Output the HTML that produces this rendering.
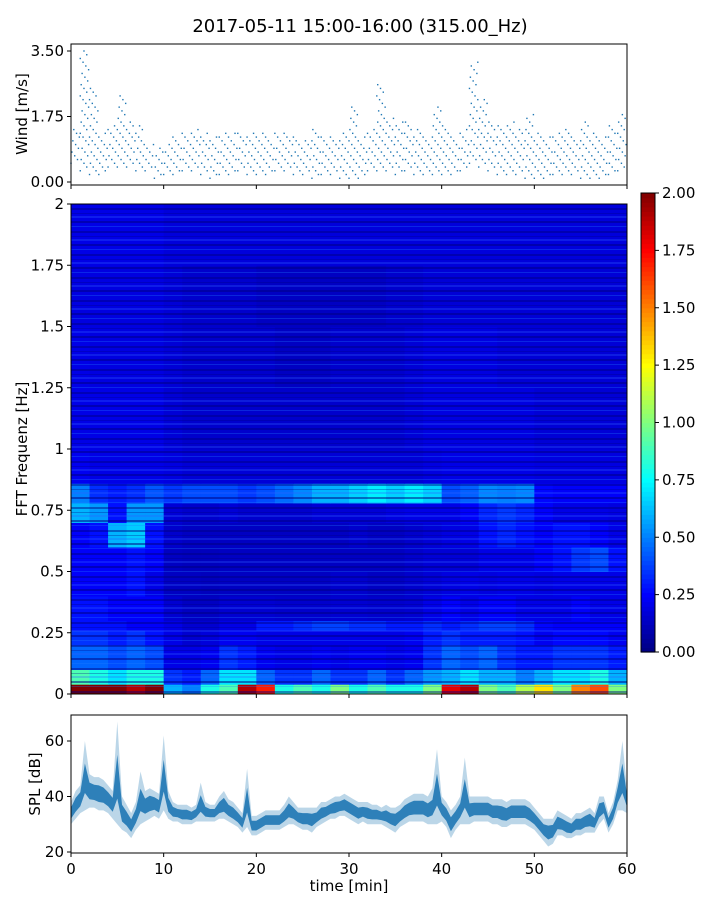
<!DOCTYPE html>
<html><head><meta charset="utf-8"><style>
html,body{margin:0;padding:0;background:#fff;}
svg{display:block;font-family:"DejaVu Sans","Liberation Sans",sans-serif;}
</style></head><body>
<svg id="chart" width="720" height="900" viewBox="0 0 720 900" xmlns="http://www.w3.org/2000/svg">
<defs>
<pattern id="streaks" patternUnits="userSpaceOnUse" x="0" y="0" width="556" height="23">
<rect x="0" y="1" width="556" height="2" fill="#00007f" fill-opacity="0.45"/>
<rect x="0" y="6" width="556" height="1" fill="#00007f" fill-opacity="0.3"/>
<rect x="0" y="9" width="556" height="2" fill="#3060ff" fill-opacity="0.3"/>
<rect x="0" y="14" width="556" height="2" fill="#00007f" fill-opacity="0.5"/>
<rect x="0" y="19" width="556" height="1" fill="#2080ff" fill-opacity="0.3"/>
</pattern>
</defs>
<text x="360" y="32" text-anchor="middle" font-size="18">2017-05-11 15:00-16:00 (315.00_Hz)</text>
<g id="wind"></g>
<g id="spec"></g>
<g id="cbar"></g>
<g id="spl"></g>
</svg>
<script>
// ---- data ----
var windMinutes = [0,1,2,3,4,5,6,7,8,9,10,11,12,13,14,15,16,17,18,19,20,21,22,23,24,25,26,27,28,29,30,31,32,33,34,35,36,37,38,39,40,41,42,43,44,45,46,47,48,49,50,51,52,53,54,55,56,57,58,59];
var windLow  = [0.5,0.3,0.2,0.2,0.4,0.4,0.4,0.3,0.3,0.1,0.2,0.2,0.3,0.3,0.2,0.1,0.2,0.2,0.3,0.2,0.2,0.2,0.3,0.3,0.2,0.2,0.1,0.2,0.2,0.1,0.1,0.1,0.3,0.3,0.3,0.2,0.3,0.2,0.2,0.2,0.2,0.2,0.3,0.5,0.4,0.3,0.2,0.2,0.2,0.1,0.1,0.1,0.2,0.2,0.2,0.1,0.1,0.1,0.2,0.3];
var windHigh = [1.4,3.5,2.5,1.3,1.5,2.3,1.6,1.5,1.0,0.9,1.0,1.2,1.3,1.4,1.3,1.2,1.3,1.3,1.3,1.3,1.3,1.2,1.3,1.3,1.2,1.1,1.4,1.2,1.2,1.3,2.0,1.2,1.4,2.6,1.7,1.6,1.6,1.4,1.2,2.0,1.5,1.2,1.4,3.2,2.2,1.6,1.5,1.6,1.4,1.8,1.3,1.2,1.3,1.4,1.2,1.6,1.3,1.2,1.5,1.8];

var specTimes = [0,2,4,6,8,10,12,14,16,18,20,22,24,26,28,30,32,34,36,38,40,42,44,46,48,50,52,54,56,58,60];
var freqEdges = [0,0.04,0.1,0.2,0.26,0.3,0.4,0.5,0.6,0.7,0.78,0.86,1.0,1.25,1.5,1.75,2.0];
var specRow0  = [2.0,2.0,2.0,1.9,2.0,0.6,0.5,0.8,0.9,1.9,1.7,0.8,0.9,0.8,1.0,0.8,0.9,0.8,0.8,1.0,1.8,1.9,1.0,0.9,1.1,1.3,1.0,1.5,1.6,1.0];
var specRow1  = [0.9,0.8,0.7,0.8,0.8,0.35,0.3,0.45,0.7,0.7,0.45,0.35,0.35,0.45,0.35,0.35,0.45,0.35,0.45,0.55,0.6,0.7,0.6,0.6,0.5,0.6,0.7,0.7,0.8,0.6];
var specRow2  = [0.45,0.45,0.4,0.45,0.4,0.2,0.2,0.22,0.35,0.3,0.22,0.2,0.2,0.22,0.2,0.22,0.22,0.2,0.22,0.35,0.45,0.4,0.45,0.35,0.3,0.3,0.35,0.35,0.35,0.3];
var specRow3  = [0.35,0.35,0.3,0.35,0.28,0.2,0.16,0.18,0.22,0.22,0.2,0.2,0.2,0.2,0.2,0.2,0.2,0.2,0.22,0.3,0.35,0.3,0.3,0.3,0.28,0.22,0.26,0.26,0.26,0.22];
var specRow4  = [0.28,0.28,0.28,0.24,0.24,0.2,0.16,0.16,0.2,0.2,0.3,0.3,0.34,0.38,0.38,0.34,0.34,0.3,0.3,0.34,0.3,0.34,0.38,0.38,0.34,0.26,0.24,0.24,0.24,0.24];
var specRow5  = [0.28,0.28,0.24,0.24,0.24,0.16,0.13,0.13,0.16,0.16,0.16,0.15,0.15,0.15,0.16,0.16,0.15,0.15,0.16,0.2,0.24,0.2,0.24,0.24,0.2,0.2,0.2,0.24,0.2,0.2];
var specRow6  = [0.24,0.24,0.24,0.28,0.2,0.13,0.13,0.12,0.13,0.13,0.13,0.13,0.13,0.13,0.15,0.15,0.13,0.13,0.15,0.17,0.19,0.2,0.19,0.2,0.2,0.19,0.2,0.2,0.2,0.2];
var specRow7  = [0.24,0.24,0.24,0.28,0.24,0.13,0.12,0.12,0.13,0.13,0.13,0.13,0.13,0.13,0.13,0.13,0.13,0.13,0.15,0.17,0.17,0.17,0.2,0.2,0.2,0.24,0.28,0.36,0.4,0.28];
var specRow8  = [0.24,0.28,0.6,0.65,0.28,0.15,0.13,0.13,0.13,0.13,0.13,0.13,0.13,0.13,0.13,0.15,0.13,0.13,0.15,0.17,0.19,0.2,0.28,0.32,0.28,0.24,0.28,0.28,0.24,0.2];
var specRow9  = [0.6,0.55,0.28,0.55,0.55,0.17,0.15,0.15,0.17,0.15,0.15,0.15,0.15,0.17,0.17,0.17,0.17,0.19,0.2,0.2,0.2,0.24,0.32,0.36,0.32,0.24,0.2,0.2,0.2,0.19];
var specRow10 = [0.5,0.34,0.3,0.34,0.42,0.36,0.4,0.4,0.4,0.36,0.4,0.46,0.52,0.6,0.6,0.66,0.72,0.66,0.72,0.66,0.4,0.44,0.52,0.5,0.52,0.26,0.24,0.24,0.24,0.24];
var specRow11 = [0.22,0.2,0.2,0.2,0.2,0.19,0.17,0.17,0.17,0.17,0.17,0.17,0.17,0.17,0.17,0.17,0.17,0.17,0.17,0.19,0.2,0.2,0.2,0.2,0.2,0.19,0.19,0.19,0.19,0.19];
var specRow12 = [0.2,0.2,0.2,0.2,0.2,0.17,0.15,0.15,0.15,0.15,0.15,0.15,0.15,0.15,0.15,0.15,0.15,0.15,0.17,0.19,0.19,0.19,0.19,0.19,0.19,0.17,0.17,0.17,0.17,0.17];
var specRow13 = [0.2,0.19,0.19,0.19,0.19,0.17,0.15,0.15,0.15,0.15,0.15,0.13,0.13,0.13,0.15,0.15,0.15,0.15,0.17,0.19,0.19,0.19,0.19,0.17,0.17,0.17,0.17,0.17,0.17,0.17];
var specRow14 = [0.19,0.19,0.19,0.19,0.19,0.17,0.15,0.15,0.15,0.15,0.13,0.13,0.13,0.13,0.13,0.13,0.13,0.15,0.15,0.17,0.17,0.17,0.17,0.17,0.17,0.17,0.17,0.17,0.17,0.17];
var specRow15 = [0.2,0.2,0.2,0.2,0.2,0.18,0.18,0.18,0.18,0.18,0.18,0.18,0.18,0.18,0.18,0.18,0.18,0.18,0.18,0.18,0.18,0.18,0.18,0.18,0.18,0.18,0.18,0.18,0.18,0.18];
var specRows = [specRow0,specRow1,specRow2,specRow3,specRow4,specRow5,specRow6,specRow7,specRow8,specRow9,specRow10,specRow11,specRow12,specRow13,specRow14,specRow15];

var splTimes = [];
for (var k=0;k<=120;k++) splTimes.push(k*0.5);
var splLow  = [30,32,34,35,36,36,35,35,34,32,30,28,27,25,28,30,31,32,33,32,35,32,31,31,30,30,30,31,31,31,31,31,32,32,31,30,29,27,29,26,26,27,28,28,28,28,29,30,30,29,28,28,27,29,30,31,32,32,33,33,32,31,30,31,30,30,30,30,29,28,27,29,30,31,31,31,31,30,30,30,31,29,25,28,30,30,30,31,31,31,31,30,30,29,29,30,30,30,30,29,28,26,24,22,23,26,26,25,25,26,26,27,27,27,30,32,27,30,35,35,34];
var splHigh = [38,42,44,60,48,47,47,46,44,42,67,40,37,34,38,49,42,43,42,41,62,42,38,37,37,37,36,37,45,38,37,37,40,42,39,38,36,34,50,33,33,34,35,35,35,35,37,40,38,36,36,36,36,36,38,38,39,40,40,41,40,39,38,38,38,37,37,36,37,36,36,37,39,40,41,41,41,40,43,57,40,38,35,37,40,54,40,40,40,40,40,39,39,39,38,39,39,39,39,38,36,34,32,32,32,35,34,33,32,34,34,35,36,34,40,40,34,38,46,60,43];

var windTicks = ["0.00","1.75","3.50"];
var freqTicks = ["0","0.25","0.5","0.75","1","1.25","1.5","1.75","2"];
var cbarTicks = ["0.00","0.25","0.50","0.75","1.00","1.25","1.50","1.75","2.00"];
var splTicks = ["20","40","60"];
var timeTicks = ["0","10","20","30","40","50","60"];

// ---- helpers ----
var NS="http://www.w3.org/2000/svg";
function mk(parent,tag,attrs){var e=document.createElementNS(NS,tag);for(var a in attrs)e.setAttribute(a,attrs[a]);parent.appendChild(e);return e;}
var X0=71,X1=627;
function xT(t){return X0+(t/60)*(X1-X0);}
function yWind(v){return 182-v*(182-51)/3.5;}
function yFreq(f){return 694-f*(694-204)/2;}
function yCbar(v){return 652-v*(652-193)/2;}
function ySpl(v){return 852-(v-20)*(852-741)/40;}
function jet(v){var t=Math.max(0,Math.min(1,v/2));
 function c(x){return Math.max(0,Math.min(1,x));}
 var r=c(1.5-Math.abs(4*t-3)),g=c(1.5-Math.abs(4*t-2)),b=c(1.5-Math.abs(4*t-1));
 return "rgb("+Math.round(r*255)+","+Math.round(g*255)+","+Math.round(b*255)+")";}
function frame(g,x,y,w,h){var r=mk(g,'rect',{x:x,y:y,width:w,height:h,fill:'none',stroke:'#000','stroke-width':1});
 
 }
function xTicks(g,yb,labels){
 for(var i=0;i<timeTicks.length;i++){var x=xT(+timeTicks[i]);
  mk(g,'line',{x1:x,x2:x,y1:yb,y2:yb+4,stroke:'#000'});
  if(labels){var t=mk(g,'text',{x:x,y:yb+21,'text-anchor':'middle','font-size':15});t.textContent=timeTicks[i];
   
   }}}
function yTick(g,y,label,name){mk(g,'line',{x1:X0-4,x2:X0,y1:y,y2:y,stroke:'#000'});
 var t=mk(g,'text',{x:X0-7,y:y+5,'text-anchor':'end','font-size':15});t.textContent=label;
 
 }

// ---- wind ----
var wg=document.getElementById('wind');
for(var m=0;m<windMinutes.length;m++){
 var lo=windLow[m],hi=windHigh[m],n=0;
 for(var v=lo;v<=hi+1e-6;v+=0.1){
  var frac=((n*7)%10)/10; n++;
  var c=mk(wg,'rect',{x:xT(windMinutes[m]+frac)-0.7,y:yWind(v)-0.7,width:1.4,height:1.4,fill:'#1f77b4'});
  
  
 }
}
frame(wg,71,44,556,141);
for(var i=0;i<windTicks.length;i++) yTick(wg,yWind(+windTicks[i]),windTicks[i],'wind-y-tick');
xTicks(wg,185,false);
var wl=mk(wg,'text',{x:27,y:114,'text-anchor':'middle','font-size':15,transform:'rotate(-90 27 114)'});wl.textContent='Wind [m/s]';



// ---- spectrogram ----
var sg=document.getElementById('spec');
for(var r=0;r<specRows.length;r++){
 for(var c2=0;c2<specRows[r].length;c2++){
  var xa=xT(specTimes[c2]),xb=xT(specTimes[c2+1]);
  var ya=yFreq(freqEdges[r+1]),yb=yFreq(freqEdges[r]);
  var cell=mk(sg,'rect',{x:xa,y:ya,width:xb-xa+0.5,height:yb-ya+0.5,fill:jet(specRows[r][c2])});
  
  
 }
}
var tex=mk(sg,'rect',{x:71,y:204,width:556,height:490,fill:'url(#streaks)'});


frame(sg,71,204,556,490);
for(var i=0;i<freqTicks.length;i++) yTick(sg,yFreq(+freqTicks[i]),freqTicks[i],'freq-y-tick');
xTicks(sg,694,false);
var fl=mk(sg,'text',{x:27,y:449,'text-anchor':'middle','font-size':15,transform:'rotate(-90 27 449)'});fl.textContent='FFT Frequenz [Hz]';



// ---- colorbar ----
var cg=document.getElementById('cbar');
for(var s=0;s<100;s++){var v0=s*0.02;
 var st=mk(cg,'rect',{x:641,y:yCbar(v0+0.02),width:14,height:(652-193)/100+0.6,fill:jet(v0+0.01)});
 
 }
mk(cg,'rect',{x:641,y:193,width:14,height:459,fill:'none',stroke:'#000'});
for(var i=0;i<cbarTicks.length;i++){var y=yCbar(+cbarTicks[i]);
 mk(cg,'line',{x1:655,x2:659,y1:y,y2:y,stroke:'#000'});
 var t=mk(cg,'text',{x:662,y:y+5,'font-size':15});t.textContent=cbarTicks[i];
 
 }

// ---- SPL ----
var pg=document.getElementById('spl');
function bandPath(lowArr,highArr,shrink){
 var d='';
 for(var i=0;i<splTimes.length;i++){var mid=(lowArr[i]+highArr[i])/2,h=highArr[i];
  if(h-mid>6 && shrink<1) h=mid+(h-mid)*0.7;
  var v=mid+(h-mid)*shrink; d+=(i?'L':'M')+xT(splTimes[i]).toFixed(1)+','+ySpl(v).toFixed(1);}
 for(var i=splTimes.length-1;i>=0;i--){var mid=(lowArr[i]+highArr[i])/2;
  var v=mid-(mid-lowArr[i])*shrink; d+='L'+xT(splTimes[i]).toFixed(1)+','+ySpl(v).toFixed(1);}
 return d+'Z';}
var outer=mk(pg,'path',{d:bandPath(splLow,splHigh,1),fill:'#1f77b4','fill-opacity':0.3});


var inner=mk(pg,'path',{d:bandPath(splLow,splHigh,0.5),fill:'#1f77b4','fill-opacity':0.9});


frame(pg,71,715,556,138);
for(var i=0;i<splTicks.length;i++) yTick(pg,ySpl(+splTicks[i]),splTicks[i],'spl-y-tick');
xTicks(pg,853,true);
var sl=mk(pg,'text',{x:40,y:784,'text-anchor':'middle','font-size':15,transform:'rotate(-90 40 784)'});sl.textContent='SPL [dB]';


var xl=mk(pg,'text',{x:349,y:891,'text-anchor':'middle','font-size':15});xl.textContent='time [min]';


</script>
</body></html>
